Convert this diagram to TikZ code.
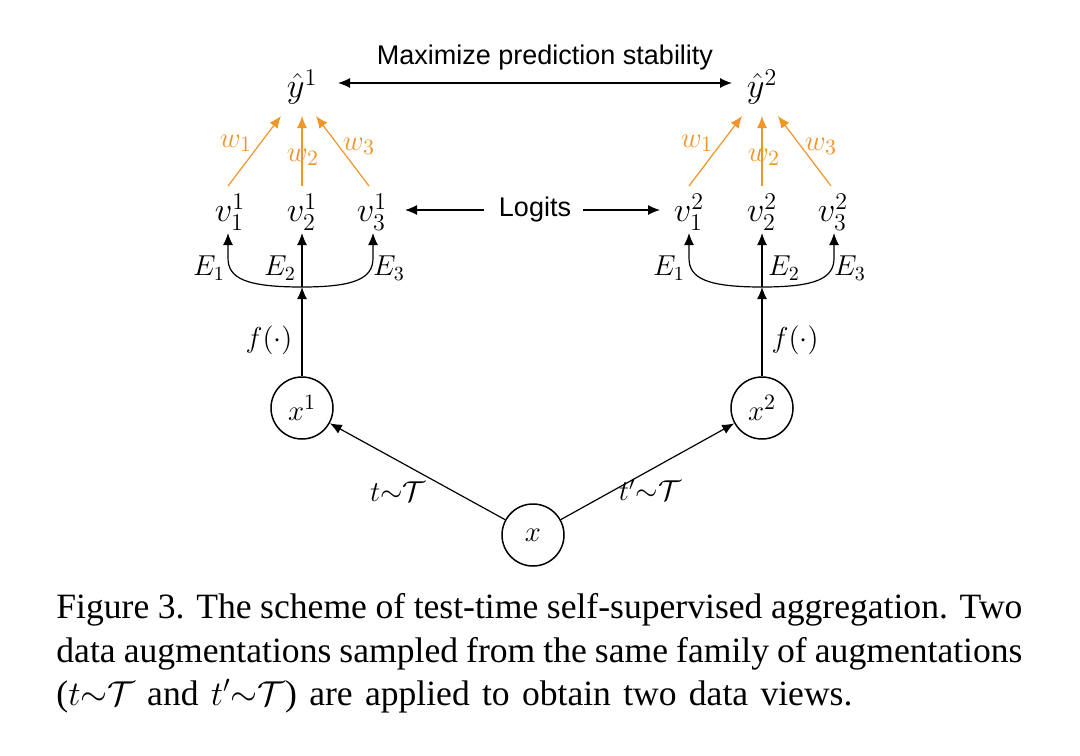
\documentclass[tikz,border=0pt]{standalone}
\usepackage{fontspec}
\setmainfont{Liberation Serif}
\setsansfont{Liberation Sans}
\usetikzlibrary{arrows.meta}
\definecolor{worange}{RGB}{240,150,40}
\begin{document}
\begin{tikzpicture}[x=0.5pt,y=-0.5pt,
  mth/.style={inner sep=0pt,font=\fontsize{16.5}{19}\selectfont},
  lab/.style={inner sep=0pt,font=\fontsize{14.5}{17}\selectfont},
  wlab/.style={inner sep=0pt,text=worange,font=\fontsize{15.5}{18}\selectfont},
  circ/.style={draw,circle,line width=0.75pt,minimum size=31pt,inner sep=0pt,font=\fontsize{15}{18}\selectfont},
  blk/.style={line width=0.6pt,-{Latex[length=6pt,width=5pt]}},
  org/.style={worange,line width=0.6pt,-{Latex[length=6pt,width=5pt]}},
  dbl/.style={line width=0.6pt,{Latex[length=6pt,width=5pt]}-{Latex[length=6pt,width=5pt]}},
  sans/.style={inner sep=0pt,font=\sffamily\fontsize{13.5}{15}\selectfont}]
\useasboundingbox[fill=white] (0,0) rectangle (1080,755);

% top labels
\node[sans] (max) at (545,58) {Maximize prediction stability};
\node[mth] (y1) at (302,87) {$\hat{y}^1$};
\node[mth] (y2) at (762,87) {$\hat{y}^2$};
\coordinate (ya) at (338,83);
\coordinate (yb) at (732,83);
\draw[dbl] (ya) -- (yb);

% logits
\node[mth] (v11) at (230,212) {$v_1^1$};
\node[mth] (v21) at (302,212) {$v_2^1$};
\node[mth] (v31) at (372,212) {$v_3^1$};
\node[mth] (v12) at (689,212) {$v_1^2$};
\node[mth] (v22) at (762,212) {$v_2^2$};
\node[mth] (v32) at (833,212) {$v_3^2$};
\node[sans] (logits) at (535,210) {Logits};
\coordinate (la) at (484,210);
\coordinate (lb) at (405,210);
\coordinate (ra) at (583,210);
\coordinate (rb) at (660,210);
\draw[blk] (la) -- (lb);
\draw[blk] (ra) -- (rb);

% orange weights, left
\coordinate (o1s) at (228,186);
\coordinate (o1e) at (281,116);
\coordinate (o2s) at (302,186);
\coordinate (o2e) at (302,116);
\coordinate (o3s) at (369,186);
\coordinate (o3e) at (316,116);
\draw[org] (o1s) -- (o1e);
\draw[org] (o2s) -- (o2e);
\draw[org] (o3s) -- (o3e);
\node[wlab] (w11) at (236,143) {$w_1$};
\node[wlab] (w21) at (303,157) {$w_2$};
\node[wlab] (w31) at (359,146) {$w_3$};
% orange weights, right
\coordinate (p1s) at (689,186);
\coordinate (p1e) at (742,116);
\coordinate (p2s) at (762,186);
\coordinate (p2e) at (762,116);
\coordinate (p3s) at (831,186);
\coordinate (p3e) at (778,116);
\draw[org] (p1s) -- (p1e);
\draw[org] (p2s) -- (p2e);
\draw[org] (p3s) -- (p3e);
\node[wlab] (w12) at (697,143) {$w_1$};
\node[wlab] (w22) at (764,157) {$w_2$};
\node[wlab] (w32) at (821,146) {$w_3$};

% circles
\node[circ] (x1) at (302,408) {$x^1$};
\node[circ] (x2) at (762,408) {$x^2$};
\node[circ] (x) at (533,535) {$x$};

% experts left
\coordinate (j1) at (302,287);
\coordinate (a1) at (228,233);
\coordinate (a2) at (302,233);
\coordinate (a3) at (373,233);
\draw[blk] (x1) -- (j1);
\draw[blk] (j1) -- (a2);
\draw[blk] (j1) .. controls (245,287) and (228,278) .. (228,258) -- (a1);
\draw[blk] (j1) .. controls (356,287) and (373,278) .. (373,258) -- (a3);
\node[lab] (e11) at (209,268) {$E_1$};
\node[lab] (e21) at (280,268) {$E_2$};
\node[lab] (e31) at (389,268) {$E_3$};
\node[lab] (f1) at (269,340) {$f(\cdot)$};

% experts right
\coordinate (j2) at (762,287);
\coordinate (b1) at (689,233);
\coordinate (b2) at (762,233);
\coordinate (b3) at (834,233);
\draw[blk] (x2) -- (j2);
\draw[blk] (j2) -- (b2);
\draw[blk] (j2) .. controls (706,287) and (689,278) .. (689,258) -- (b1);
\draw[blk] (j2) .. controls (817,287) and (834,278) .. (834,258) -- (b3);
\node[lab] (e12) at (669,268) {$E_1$};
\node[lab] (e22) at (784,268) {$E_2$};
\node[lab] (e32) at (850,268) {$E_3$};
\node[lab] (f2) at (795,340) {$f(\cdot)$};

% augmentations
\draw[blk] (x) -- (x1);
\draw[blk] (x) -- (x2);
\node[lab] (t1) at (398,492) {$t{\sim}\mathcal{T}$};
\node[lab] (t2) at (650,490) {$t'{\sim}\mathcal{T}$};

% caption
\begin{scope}[every node/.style={anchor=base west,inner sep=0pt,font=\fontsize{17.8}{22}\selectfont}]
\node (c1) at (56,618) {\makebox[483pt][s]{Figure 3. The scheme of test-time self-supervised aggregation. Two}};
\node (c2) at (56,662) {\makebox[483pt][s]{data augmentations sampled from the same family of augmentations}};
\node (c3) at (56,705) {\makebox[398pt][s]{($t{\sim}\mathcal{T}$ and $t'{\sim}\mathcal{T}$) are applied to obtain two data views.}};
\end{scope}
\end{tikzpicture}
\end{document}
